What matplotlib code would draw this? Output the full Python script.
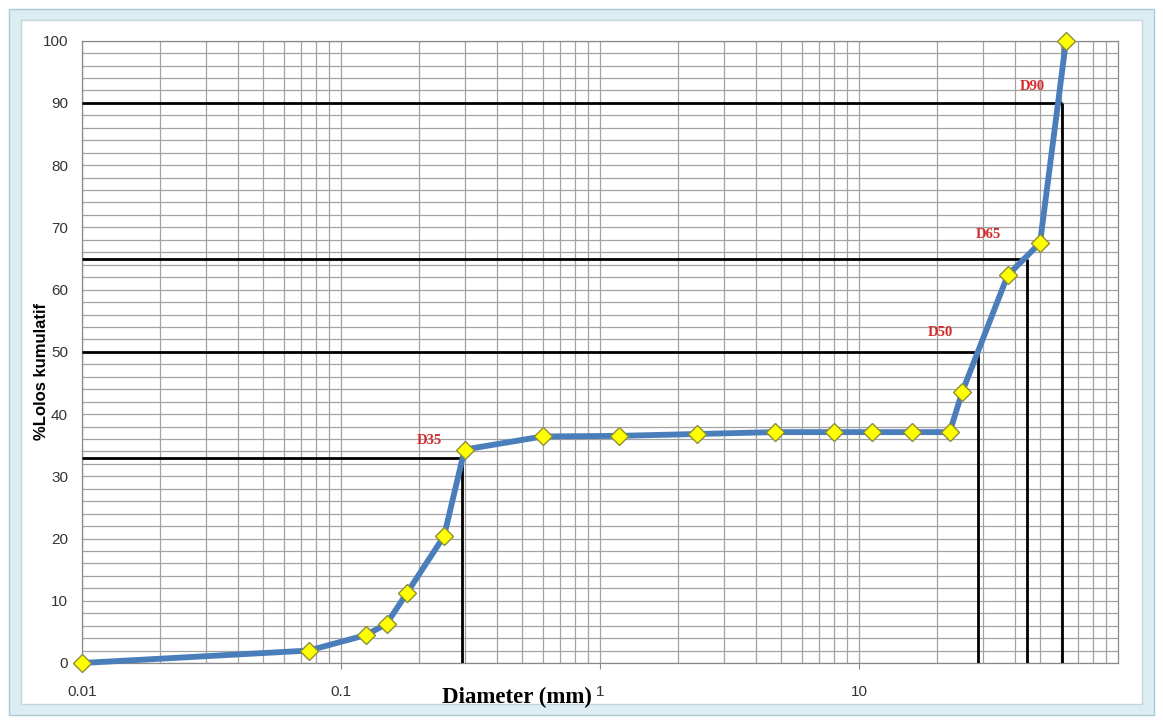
import matplotlib.pyplot as plt
from matplotlib.patches import Rectangle
from matplotlib.ticker import FixedLocator, NullFormatter

# sieve analysis data
diameter_mm = [0.01, 0.075, 0.125, 0.15, 0.18, 0.25, 0.3, 0.6, 1.18, 2.36, 4.75,
               8, 11.2, 16, 22.4, 25, 37.5, 50, 63]
lolos_pct = [0, 2.0, 4.5, 6.3, 11.3, 20.4, 34.3, 36.4, 36.5, 36.8, 37.1,
             37.1, 37.1, 37.1, 37.1, 43.5, 62.3, 67.5, 100]

d_names = ["D35", "D50", "D65", "D90"]
d_percent = [33, 50, 65, 90]
d_size = [0.294, 28.9, 44.4, 60.6]
d_label_x = [0.219, 20.7, 31.6, 46.7]
d_label_y = [35.8, 53.1, 68.9, 92.7]

x_ticks = [0.01, 0.1, 1, 10]
x_tick_labels = ["0.01", "0.1", "1", "10"]
y_ticks = list(range(0, 101, 10))

fig = plt.figure(figsize=(11.63, 7.24), dpi=100)
fig.patch.set_facecolor("white")

# excel-like chart frame
W, H = 1163, 724
fig.patches.append(Rectangle((9 / W, 9 / H), (W - 18) / W, (H - 18) / H, transform=fig.transFigure,
                             facecolor="#dcedf3", edgecolor="#aacbd6", lw=1, zorder=-10))
fig.patches.append(Rectangle((21 / W, 20 / H), (W - 42) / W, (H - 40) / H, transform=fig.transFigure,
                             facecolor="white", edgecolor="#c5d5da", lw=1, zorder=-9))

ax = fig.add_axes([82 / W, 1 - 663 / H, 1036 / W, 622.3 / H])
ax.set_xscale("log")
ax.set_xlim(0.01, 100)
ax.set_ylim(0, 100)

# grid
ax.set_yticks(y_ticks)
ax.yaxis.set_minor_locator(FixedLocator([v for v in range(0, 101, 2) if v % 10]))
minor_x = [m * 10.0 ** e for e in range(-2, 2) for m in range(2, 10)]
ax.xaxis.set_minor_locator(FixedLocator(minor_x))
ax.xaxis.set_minor_formatter(NullFormatter())
ax.grid(True, which="both", color="#a3a3a3", lw=0.9)
ax.set_axisbelow(True)

ax.set_xticks(x_ticks)
ax.set_xticklabels(x_tick_labels)
ax.tick_params(axis="x", which="major", length=4, color="#8a8a8a", pad=12,
               labelsize=11, labelcolor="#333333")
ax.tick_params(axis="x", which="minor", length=0)
ax.tick_params(axis="y", which="both", length=0, pad=10, labelsize=11, labelcolor="#333333")
for lab in ax.get_xticklabels() + ax.get_yticklabels():
    lab.set_fontfamily("Liberation Sans")
for sp in ax.spines.values():
    sp.set_color("#8a8a8a")
    sp.set_linewidth(0.9)

# D lines
for name, pct, size, lx, ly in zip(d_names, d_percent, d_size, d_label_x, d_label_y):
    ax.plot([0.01, size], [pct, pct], color="black", lw=2.0, solid_capstyle="butt", zorder=3)
    ax.plot([size, size], [0, pct], color="black", lw=2.0, solid_capstyle="butt", zorder=3)
    ax.text(lx, ly, name, color="#d42a2a", fontsize=10.5, fontweight="bold",
            family="Liberation Serif", ha="center", va="center", zorder=5)

ax.plot(diameter_mm, lolos_pct, color="#4a7ebb", lw=4.2, marker="D", markersize=9.5,
        markerfacecolor="#ffff00", markeredgecolor="#8d8d3a", markeredgewidth=1.0,
        zorder=4, clip_on=False)

ax.set_xlabel("Diameter (mm)", fontsize=16.5, fontweight="bold", family="Liberation Serif")
ax.xaxis.label.set_ha("right")
ax.xaxis.set_label_coords(0.492, -0.038)
ax.set_ylabel("%Lolos kumulatif", fontsize=12, fontweight="bold", family="Liberation Sans")
ax.yaxis.set_label_coords(-0.0318, 0.468)

plt.savefig("out.png", dpi=100)
plt.close()
